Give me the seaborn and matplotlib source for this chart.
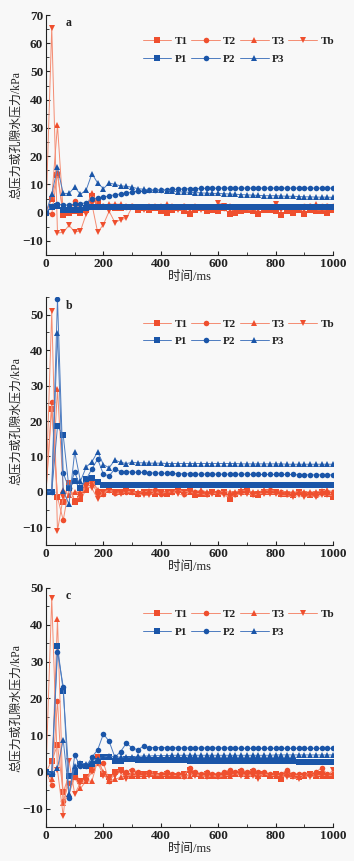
import pandas as pd
import matplotlib
matplotlib.use('Agg')
import matplotlib.pyplot as plt
from matplotlib.ticker import MultipleLocator
import seaborn as sns

time_ms = list(range(0, 1001, 20))
series_names = ['T1', 'T2', 'T3', 'Tb', 'P1', 'P2', 'P3']

# panel a
a_T1 = [0, 5, 13.5, -1, 0, 0.5, 0, 1, 6, 3.5,
        2, 2, 1.5, 1.5, 2, 2, 1, 1.5, 1, 1.5,
        0.5, 0, 1, 1.5, 0.5, -0.5, 1, 1.5, 0.5, 1,
        0.5, 1.5, -0.5, 0, 0.5, 1, 0.5, -0.5, 1, 1,
        0.5, -0.8, 0.5, 0, 1, -0.5, 1, 0.5, 0.5, 0,
        1]
a_T2 = [0, -0.5, 14, -0.5, 0.5, 4, 1, 1, 5, 2.5,
        2.5, 2.5, 2.5, 2, 2, 2.5, 2, 2, 2, 2,
        2, 2.5, 2, 2, 2.5, 2, 2, 2, 1.5, 2,
        2, 1.5, 2, 2, 2, 1.5, 2, 2, 2, 2,
        2, 2, 2, 2, 2, 2.5, 2.5, 2, 2.5, 2.5,
        2.5]
a_T3 = [0, 5, 31, 0, 1, 3.5, 1, 2, 7, 3,
        2.5, 3, 3, 3, 2.5, 2.5, 2, 2, 2.5, 2.5,
        2.5, 3, 2.5, 2, 2.5, 2, 2.5, 2, 2, 2,
        2, 2, 2.5, 2, 2, 2, 2, 2, 2, 2,
        2.5, 2, 2, 2, 2, 2, 2.5, 3, 2, 2.5,
        2]
a_Tb = [0, 65.5, -7.2, -7, -4.5, -6.8, -6.5, -0.5, 3, -7,
        -4.2, 0.5, -3.5, -2.5, -2, 2, 1.5, 1, 1, 1.5,
        1.5, 1, 1.5, 1, 1, 1, 1.5, 1, 1.5, 1,
        3.5, 2.5, 1, 1, 1.5, 1, 1, 1, 1.5, 1,
        3, 1, 1.5, 1.5, 1, 1, 1.5, 1, 1, 1,
        1.5]
a_P1 = [0, 2, 2.2, 1, 1, 1, 1, 1.5, 2, 2,
        2, 2, 2, 2, 2, 2, 2, 2, 2, 2,
        2, 2, 2, 2, 2, 2, 2, 2, 2, 2,
        2, 2, 2, 2, 2, 2, 2, 2, 2, 2,
        2, 2, 2, 2, 2, 2, 2, 2, 2, 2,
        2]
a_P2 = [0, 2.5, 3, 2.7, 2.7, 3, 3.2, 3.5, 4.8, 5.2,
        5.5, 6, 6.3, 6.6, 6.9, 7.2, 7.5, 7.7, 7.9, 8,
        8, 8.1, 8.2, 8.3, 8.4, 8.5, 8.5, 8.6, 8.6, 8.6,
        8.7, 8.7, 8.7, 8.7, 8.7, 8.7, 8.7, 8.7, 8.7, 8.7,
        8.7, 8.7, 8.7, 8.7, 8.7, 8.7, 8.7, 8.7, 8.7, 8.7,
        8.7]
a_P3 = [0, 6.5, 16, 6.8, 6.8, 9, 6.5, 8, 13.8, 10.5,
        8.5, 10.5, 10, 9.5, 9.3, 9, 8.5, 8.3, 8, 8,
        8, 7.8, 7.6, 7.4, 7.3, 7.2, 7.1, 7, 6.9, 6.8,
        6.8, 6.7, 6.6, 6.5, 6.4, 6.3, 6.2, 6.1, 6, 6,
        6, 5.9, 5.8, 5.8, 5.7, 5.6, 5.6, 5.5, 5.5, 5.5,
        5.4]

# panel b
b_T1 = [0, 23.5, -1.5, -3, 2.5, -3, -2, 0.5, 4, 0,
        0, 0.5, 0, 0, 0.5, 0, -0.5, 0, 0, -0.5,
        0, -0.5, 0, 0.5, 0, 0.5, -1, -0.5, -0.5, 0,
        -0.5, 0, -2, -0.5, 0, 0.5, -0.5, -1, 0, 0,
        0, -0.5, -0.5, -1, 0, -0.5, -1, -0.5, 0, -0.5,
        -1.5]
b_T2 = [0, 25.3, -1.5, -8, 1, -2.5, -1, 2.5, 2.5, -0.5,
        -0.5, 0.5, -0.3, 0, 0, 0, -0.5, 0, 0, 0.5,
        -0.5, 0, 0, 0.5, -0.5, 0.5, 0, 0, -0.5, 0,
        0, 0, -1, -0.5, 0, 0.5, -0.5, -0.5, 0, 0.5,
        0, 0, -0.5, -0.5, 0, -0.5, -0.5, -1, 0, 0,
        0]
b_T3 = [0, 0, 29, 0.5, -1, 0, 0, 3, 3.5, 0.5,
        -0.5, 0.5, 0, 0, 0.2, 0, 0, 0, 0.3, 0,
        0, 0, 0, 0.5, 0, 0, 0, 0.5, 0, 0,
        0, 0, 0, 0, 0.5, 0, 0, 0, 0.5, 0.5,
        0, 0, 0, 0, 0, 0, 0, 0, 0.3, 0.5,
        0]
b_Tb = [0, 51, -11, -1.5, 2, -2.5, -1, 1.5, 1, -2,
        0, 0.5, -0.5, -0.5, 0, 0, -0.5, -1, -1, 0,
        -0.5, 0, 0, -0.5, -1, 0, -0.5, -0.5, -1, -0.5,
        -0.5, -1, -1.5, -1, -0.5, -0.5, -1, -0.5, -0.5, -0.5,
        -0.5, -1, -1, -1.5, -1, -1.5, -1, -1.5, -1, -1,
        -1]
b_P1 = [0, 0, 18.5, 16, 1, 3, 1, 3.5, 4, 2.7,
        2, 2, 2, 2, 2, 2, 2, 2, 2, 2,
        2, 2, 2, 2, 2, 2, 2, 2, 2, 2,
        1.9, 1.9, 1.9, 1.9, 1.9, 1.9, 1.9, 1.9, 1.9, 1.9,
        1.8, 1.8, 1.8, 1.8, 1.8, 1.8, 1.8, 1.8, 1.8, 1.8,
        1.8]
b_P2 = [0, 0, 54.5, 5.3, 1, 5.5, 1.5, 3.5, 6.5, 9.2,
        5, 4.5, 6.5, 5.7, 5.7, 5.6, 5.5, 5.5, 5.4, 5.3,
        5.3, 5.2, 5.2, 5.1, 5.1, 5.1, 5, 5, 5, 5,
        5, 5, 5, 5, 5, 5, 4.9, 4.9, 4.9, 4.9,
        4.9, 4.9, 4.9, 4.9, 4.8, 4.8, 4.8, 4.8, 4.8, 4.8,
        4.8]
b_P3 = [0, 0, 44.8, 0.3, -3.5, 11.3, 3, 7, 8.5, 11.3,
        7.7, 6.8, 9, 8.3, 8, 8.3, 8.2, 8.2, 8.1, 8.1,
        8.1, 8, 8, 8, 8, 8, 8, 8, 8, 8,
        8, 8, 8, 8, 7.9, 7.9, 7.9, 7.9, 7.9, 7.9,
        7.9, 7.9, 7.8, 7.8, 7.8, 7.8, 7.8, 7.8, 7.8, 7.8,
        7.8]

# panel c
c_T1 = [0, 3, 7.3, -5.5, -1, -1.5, -2.5, -1.5, 0.5, 4,
        -0.5, -1.5, 0, 0.5, -0.5, -1, -0.5, -0.5, -0.5, -1,
        -1, -0.5, -1, -1, -0.5, 0.5, -0.5, -1, -0.5, -1,
        -1, -1, -0.5, -0.5, 0, -0.5, 0, -1, -0.5, -1,
        -0.5, -2, -0.5, -1, -1.5, -1, -0.5, -1, -0.5, -1,
        -1]
c_T2 = [0, -3.5, 19.3, -8, -3, -1.5, -2.5, -2, 0.5, 2.5,
        2.5, -2.5, 0, 0.5, 0, 0.5, 0, -0.5, 0, -0.5,
        -0.5, 0, -0.5, -0.5, -1, 1, 0, -0.5, 0, -0.5,
        -0.5, 0, 0.5, 0, 0.5, 0, 0.5, 0, 0, -0.5,
        -0.5, -0.5, 0.5, -0.5, -0.5, -0.5, -0.5, 0, 1, -0.5,
        -0.5]
c_T3 = [0, -2, 41.5, -8.5, -6, -1.5, -4.5, -2.5, -2.5, 3,
        0, -2.5, -2, -1.5, -1, -1, -1, -1, -0.5, -1,
        -1, -1, -1, -1, -1, -1, -0.5, -1, -1, -1,
        -1, -1, -1, -0.5, -0.5, -1, -0.5, -1, -0.5, -1,
        -1, -1, -0.5, -1, -1, -1, -0.5, -1, -1, -1,
        -1]
c_Tb = [0, 47.3, 0.5, -12, 3, -6, -3, -2.5, 0, 2.5,
        -1, -2, -1, 0, -2, 0, -1, -1, -1, -0.5,
        -1, -1, -1, -1, -1.5, -0.5, -1, -1, -1.5, -1,
        -1.5, -1, -1, -0.5, -1, -1, -1, -2, -0.5, -1,
        -1, -1, -1.5, -1.5, -2, -1, -1.5, -1, -1, -1,
        0.5]
c_P1 = [0, -0.5, 34.3, 22, -1, 0, 2, 1.5, 2, 3,
        4, 4, 3, 3, 3.5, 3.5, 3.3, 3.3, 3.3, 3.2,
        3.2, 3.2, 3.1, 3.1, 3.1, 3, 3, 3, 3, 3,
        3, 3, 3, 3, 3, 3, 2.9, 2.9, 2.9, 2.9,
        2.9, 2.9, 2.9, 2.9, 2.8, 2.8, 2.8, 2.8, 2.8, 2.8,
        2.8]
c_P2 = [0, -0.5, 32.7, 23.2, -7, 4.5, 1.5, 1.5, 4, 6,
        10.3, 8.3, 4, 5.5, 7.8, 6.5, 6, 7, 6.6, 6.6,
        6.6, 6.6, 6.6, 6.5, 6.5, 6.5, 6.5, 6.5, 6.5, 6.5,
        6.5, 6.5, 6.5, 6.5, 6.4, 6.4, 6.4, 6.4, 6.4, 6.4,
        6.4, 6.4, 6.4, 6.4, 6.4, 6.4, 6.4, 6.4, 6.4, 6.4,
        6.4]
c_P3 = [0, -0.5, 1, 8.7, -6, 1.5, 2.5, 2, 3, 3.5,
        4, 4.3, 4, 4, 4, 4, 4.2, 4.3, 4.3, 4.4,
        4.4, 4.4, 4.5, 4.5, 4.5, 4.5, 4.5, 4.5, 4.5, 4.5,
        4.5, 4.5, 4.5, 4.5, 4.5, 4.5, 4.5, 4.5, 4.5, 4.5,
        4.6, 4.6, 4.6, 4.6, 4.6, 4.6, 4.6, 4.6, 4.6, 4.6,
        4.6]

RED, RED_LINE = '#ef4f2e', '#f48c72'
BLUE, BLUE_LINE = '#1a55a8', '#4d7cc0'
colors = {'T1': RED, 'T2': RED, 'T3': RED, 'Tb': RED,
          'P1': BLUE, 'P2': BLUE, 'P3': BLUE}
line_colors = {RED: RED_LINE, BLUE: BLUE_LINE}
markers = {'T1': 's', 'T2': 'o', 'T3': '^', 'Tb': 'v',
           'P1': 's', 'P2': 'o', 'P3': '^'}

panels = [
    ('a', [a_T1, a_T2, a_T3, a_Tb, a_P1, a_P2, a_P3], (-15, 70), [15, 255]),
    ('b', [b_T1, b_T2, b_T3, b_Tb, b_P1, b_P2, b_P3], (-15, 55), [297, 545]),
    ('c', [c_T1, c_T2, c_T3, c_Tb, c_P1, c_P2, c_P3], (-15, 50), [588, 827]),
]

sns.set_style('ticks')
plt.rcParams['font.family'] = ['Liberation Serif', 'Noto Sans CJK SC']

W, H = 354, 861
fig = plt.figure(figsize=(W / 100, H / 100), dpi=100, facecolor='#f8f8f8')

for letter, data, ylim, (top, bottom) in panels:
    ax = fig.add_axes([46 / W, 1 - bottom / H, (333 - 46) / W, (bottom - top) / H])
    ax.set_facecolor('#f8f8f8')
    df = pd.DataFrame({'t': time_ms})
    for name, vals in zip(series_names, data):
        df[name] = vals
    long = df.melt(id_vars='t', var_name='series', value_name='v')
    for name in series_names:
        sub = long[long['series'] == name]
        sns.lineplot(data=sub, x='t', y='v', color=colors[name], marker=markers[name],
                     markersize=4, markeredgewidth=0, linewidth=0.7, label=name, ax=ax)
        ln = ax.lines[-1]
        ln.set_color(line_colors[colors[name]])
        ln.set_markerfacecolor(colors[name])
        ln.set_markeredgecolor(colors[name])
    ax.set_xlim(0, 1000)
    ax.set_ylim(*ylim)
    ax.xaxis.set_major_locator(MultipleLocator(200))
    ax.xaxis.set_minor_locator(MultipleLocator(100))
    ax.yaxis.set_major_locator(MultipleLocator(10))
    ax.yaxis.set_minor_locator(MultipleLocator(5))
    ax.tick_params(which='major', direction='in', length=3, width=0.8,
                   labelsize=9.5, pad=2, colors='#222222')
    ax.tick_params(which='minor', direction='in', length=2, width=0.6, colors='#222222')
    for lab in ax.get_xticklabels() + ax.get_yticklabels():
        lab.set_fontweight('bold')
    sns.despine(ax=ax)
    for s in ('left', 'bottom'):
        ax.spines[s].set_linewidth(0.8)
        ax.spines[s].set_color('#222222')
    ax.set_xlabel('时间/ms', fontsize=9, labelpad=1, color='#222222')
    ax.set_ylabel('总压力或孔隙水压力/kPa', fontsize=8.6, labelpad=0, color='#222222')
    ax.text(0.07, 0.965, letter, transform=ax.transAxes, fontsize=8.5,
            fontweight='bold', va='center', color='#222222')
    handles, labels = ax.get_legend_handles_labels()
    order = ['T1', 'P1', 'T2', 'P2', 'T3', 'P3', 'Tb']
    hmap = dict(zip(labels, handles))
    leg = ax.legend([hmap[k] for k in order], order, ncol=4, frameon=False,
                    loc='upper right', bbox_to_anchor=(1.02, 0.93),
                    prop={'size': 8, 'weight': 'bold'},
                    handlelength=2.6, handletextpad=0.3, columnspacing=0.3,
                    labelspacing=0.7, borderaxespad=0)
    for t in leg.get_texts():
        t.set_color('#222222')

fig.savefig('out.png', dpi=100, facecolor=fig.get_facecolor())
